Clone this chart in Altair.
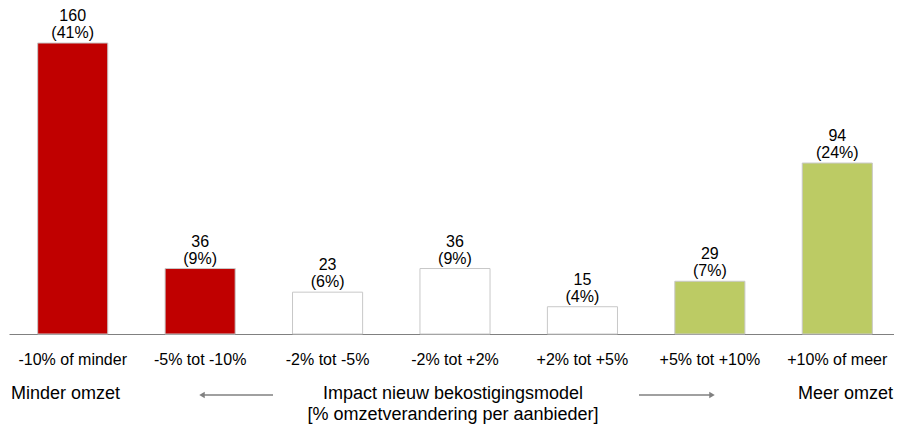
import altair as alt
import pandas as pd

categories = ["-10% of minder", "-5% tot -10%", "-2% tot -5%", "-2% tot +2%",
              "+2% tot +5%", "+5% tot +10%", "+10% of meer"]
counts = [160, 36, 23, 36, 15, 29, 94]
pcts = [41, 9, 6, 9, 4, 7, 24]
groups = ["neg", "neg", "neutral", "neutral", "neutral", "pos", "pos"]

df = pd.DataFrame({
    "cat": categories,
    "count": counts,
    "countLabel": [str(c) for c in counts],
    "pctLabel": [f"({p}%)" for p in pcts],
    "group": groups,
})

FONT = "Liberation Sans"

x = alt.X("cat:N", sort=categories, title=None,
          scale=alt.Scale(paddingInner=0.45, paddingOuter=0.225, range=[1, 893]),
          axis=alt.Axis(labelAngle=0, ticks=False, domainColor="#808080",
                        domainWidth=1.2, labelFontSize=16, labelColor="black",
                        labelFont=FONT, labelBaseline="middle", labelPadding=25))
y = alt.Y("count:Q", scale=alt.Scale(domain=[0, 160], nice=False, zero=True), axis=None)

base = alt.Chart(df)

bars = base.mark_bar(stroke="#C8C8C8", strokeWidth=1).encode(
    x=x, y=y,
    fill=alt.Fill("group:N", legend=None,
                  scale=alt.Scale(domain=["neg", "neutral", "pos"],
                                  range=["#C00000", "#FFFFFF", "#BCCB64"])),
)

count_text = base.mark_text(font=FONT, fontSize=16, color="black",
                            baseline="middle", dy=-27).encode(
    x=x, y=y, text="countLabel:N")
pct_text = base.mark_text(font=FONT, fontSize=16, color="black",
                          baseline="middle", dy=-10).encode(
    x=x, y=y, text="pctLabel:N")

one = pd.DataFrame({"k": [0]})

left_arrow = alt.Chart(one).mark_rule(color="#808080", strokeWidth=1.5).encode(
    x=alt.value(195), x2=alt.value(265), y=alt.value(352))
left_head = alt.Chart(one).mark_point(shape="triangle-left", filled=True,
                                      color="#808080", size=40, opacity=1).encode(
    x=alt.value(194), y=alt.value(352))
right_arrow = alt.Chart(one).mark_rule(color="#808080", strokeWidth=1.5).encode(
    x=alt.value(631), x2=alt.value(703), y=alt.value(352))
right_head = alt.Chart(one).mark_point(shape="triangle-right", filled=True,
                                       color="#808080", size=40, opacity=1).encode(
    x=alt.value(704), y=alt.value(352))

left_txt = alt.Chart(pd.DataFrame({"t": ["Minder omzet"]})).mark_text(
    font=FONT, fontSize=18, color="black", align="left", baseline="alphabetic").encode(
    x=alt.value(3), y=alt.value(356), text="t:N")
right_txt = alt.Chart(pd.DataFrame({"t": ["Meer omzet"]})).mark_text(
    font=FONT, fontSize=18, color="black", align="right", baseline="alphabetic").encode(
    x=alt.value(885), y=alt.value(356), text="t:N")
title_txt = alt.Chart(pd.DataFrame({"t": ["Impact nieuw bekostigingsmodel"]})).mark_text(
    font=FONT, fontSize=18, color="black", align="center", baseline="alphabetic").encode(
    x=alt.value(445), y=alt.value(356), text="t:N")
title2_txt = alt.Chart(pd.DataFrame({"t": ["[% omzetverandering per aanbieder]"]})).mark_text(
    font=FONT, fontSize=18, color="black", align="center", baseline="alphabetic").encode(
    x=alt.value(445), y=alt.value(377), text="t:N")

chart = alt.layer(
    bars, count_text, pct_text,
    left_arrow, left_head, right_arrow, right_head,
    left_txt, right_txt, title_txt, title2_txt,
).properties(
    width=886, height=291,
    autosize=alt.AutoSizeParams(type="none"),
    padding={"left": 0, "top": 35, "right": 0, "bottom": 90},
    background="white",
).configure_view(strokeWidth=0, stroke="transparent")

chart.save("out.html", embed_options={"renderer": "svg", "actions": False})
